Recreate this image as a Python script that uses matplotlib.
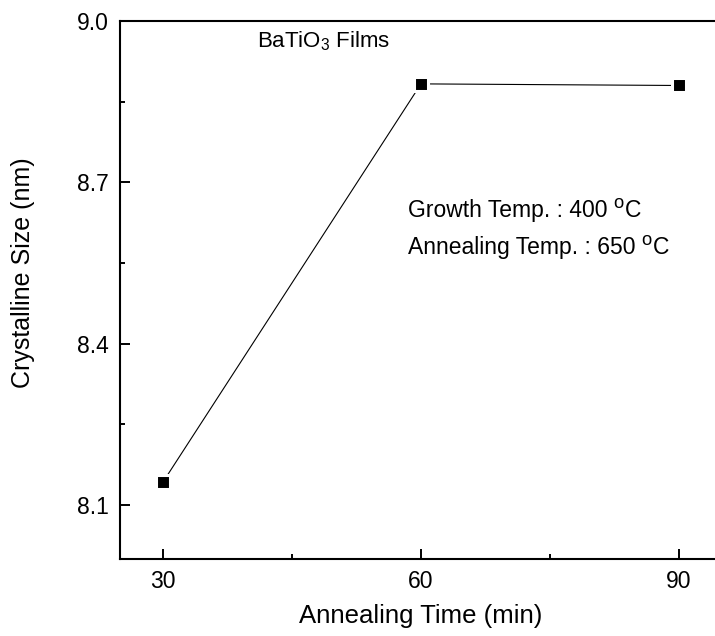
import matplotlib
matplotlib.use("Agg")
import matplotlib.pyplot as plt
from matplotlib.ticker import FixedLocator
from matplotlib.transforms import offset_copy

plt.rcParams['font.family'] = ['Liberation Sans', 'DejaVu Sans']
plt.rcParams['mathtext.fontset'] = 'custom'
plt.rcParams['mathtext.rm'] = 'Liberation Sans'

# annealing time (min) vs crystalline size (nm)
anneal_time = [30, 60, 90]
crystal_size = [8.143, 8.883, 8.880]

x_major = [30, 60, 90]
x_minor = [45, 75]
y_major = [8.1, 8.4, 8.7, 9.0]
y_minor = [8.25, 8.55, 8.85]

fig = plt.figure(figsize=(7.15, 6.36), dpi=100)
ax = fig.add_axes([0.1678, 0.1211, 0.842, 0.846])

ax.plot(anneal_time, crystal_size, color='black', lw=0.8,
        marker='s', markersize=10, markerfacecolor='black',
        markeredgecolor='white', markeredgewidth=2.2)

ax.set_xlim(25, 95)
ax.set_ylim(8.0, 9.0)
ax.xaxis.set_major_locator(FixedLocator(x_major))
ax.xaxis.set_minor_locator(FixedLocator(x_minor))
ax.yaxis.set_major_locator(FixedLocator(y_major))
ax.yaxis.set_minor_locator(FixedLocator(y_minor))
ax.set_xticklabels([str(v) for v in x_major])
ax.set_yticklabels(['%.1f' % v for v in y_major])

ax.tick_params(which='both', direction='in', width=1.4, labelsize=16.5,
               top=False, right=False)
ax.tick_params(which='major', length=7)
ax.tick_params(which='minor', length=3.6)
ax.tick_params(axis='y', pad=8)
ax.tick_params(axis='x', pad=8)

for side in ['left', 'bottom', 'top']:
    ax.spines[side].set_linewidth(1.5)
ax.spines['right'].set_visible(False)

ax.set_xlabel('Annealing Time (min)', fontsize=18.5, labelpad=8)
ax.set_ylabel('Crystalline Size (nm)', fontsize=18)
ax.yaxis.set_label_coords(-0.141, 0.533)

ax.text(0.228, 0.962, r'BaTiO$_{3}$ Films', transform=ax.transAxes,
        fontsize=16, va='center', ha='left')

renderer = fig.canvas.get_renderer()


def temp_label(x, y, prefix, size=16.5):
    # "prefix  °C" with a raised lowercase o as the degree sign
    t = ax.text(x, y, prefix, transform=ax.transAxes, fontsize=size,
                va='baseline', ha='left')
    x_start = ax.transAxes.transform((x, y))[0]
    dx = t.get_window_extent(renderer).x1 - x_start + 6
    o = ax.text(x, y, 'o', fontsize=size * 0.8, va='baseline', ha='left',
                transform=offset_copy(ax.transAxes, fig=fig, x=dx, y=9,
                                      units='dots'))
    dx += o.get_window_extent(renderer).width + 1
    ax.text(x, y, 'C', fontsize=size, va='baseline', ha='left',
            transform=offset_copy(ax.transAxes, fig=fig, x=dx, y=0,
                                  units='dots'))


temp_label(0.478, 0.635, 'Growth Temp. : 400')
temp_label(0.478, 0.566, 'Annealing Temp. : 650')

fig.savefig('out.png', dpi=100)
